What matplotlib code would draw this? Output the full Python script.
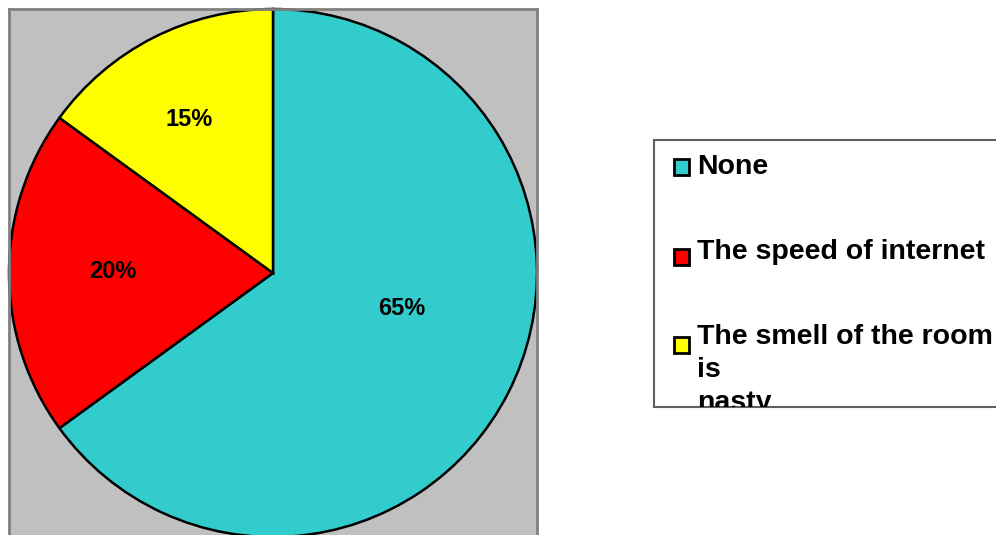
import matplotlib.pyplot as plt
from matplotlib.patches import Rectangle

labels = ['None', 'The speed of internet', 'The smell of the room\nis\nnasty']
values = [65, 20, 15]
colors = ['#33CCCC', '#FF0000', '#FFFF00']
# label spots (fraction of radius) as Excel placed them
pct_pos = [(0.489, -0.133), (-0.606, 0.007), (-0.318, 0.583)]

plt.rcParams['font.family'] = ['Liberation Sans', 'DejaVu Sans']

W, H = 996, 535
fig = plt.figure(figsize=(W / 100, H / 100), dpi=100)

# pie plot area
ax = fig.add_axes([9 / W, (H - 537) / H, 528 / W, 528 / H])
ax.set_facecolor('#C0C0C0')
for s in ax.spines.values():
    s.set_color('#808080')
    s.set_linewidth(2)
wedges, texts, autotexts = ax.pie(values, colors=colors, startangle=90, counterclock=False,
                                  radius=1.0, autopct='%d%%',
                                  wedgeprops=dict(edgecolor='black', linewidth=1.8),
                                  textprops=dict(fontsize=17, fontweight='bold'))
for t, p in zip(autotexts, pct_pos):
    t.set_position(p)
ax.set_xlim(-1, 1)
ax.set_ylim(-1, 1)
ax.set_aspect('auto')
ax.set_xticks([])
ax.set_yticks([])
ax.set_frame_on(True)

# legend box, clipped like the original
lx0, ly0, ly1 = 654, 140, 407
lax = fig.add_axes([lx0 / W, (H - ly1) / H, (W + 20 - lx0) / W, (ly1 - ly0) / H])
lax.set_xlim(0, W + 20 - lx0)
lax.set_ylim(ly1 - ly0, 0)
lax.set_xticks([])
lax.set_yticks([])
for s in lax.spines.values():
    s.set_color('#606060')
    s.set_linewidth(1.5)

baselines = [174, 259, 344]
marker_y = [159, 249, 337]
line_step = 33
for lab, c, by, my in zip(labels, colors, baselines, marker_y):
    lax.add_patch(Rectangle((674 - lx0, my - ly0), 15, 16, facecolor=c,
                            edgecolor='black', linewidth=2, clip_on=True))
    for i, line in enumerate(lab.split('\n')):
        lax.text(697 - lx0, by - ly0 + i * line_step, line, fontsize=20.5,
                 fontweight='bold', va='baseline', ha='left', clip_on=True)

fig.savefig('out.png', dpi=100)
